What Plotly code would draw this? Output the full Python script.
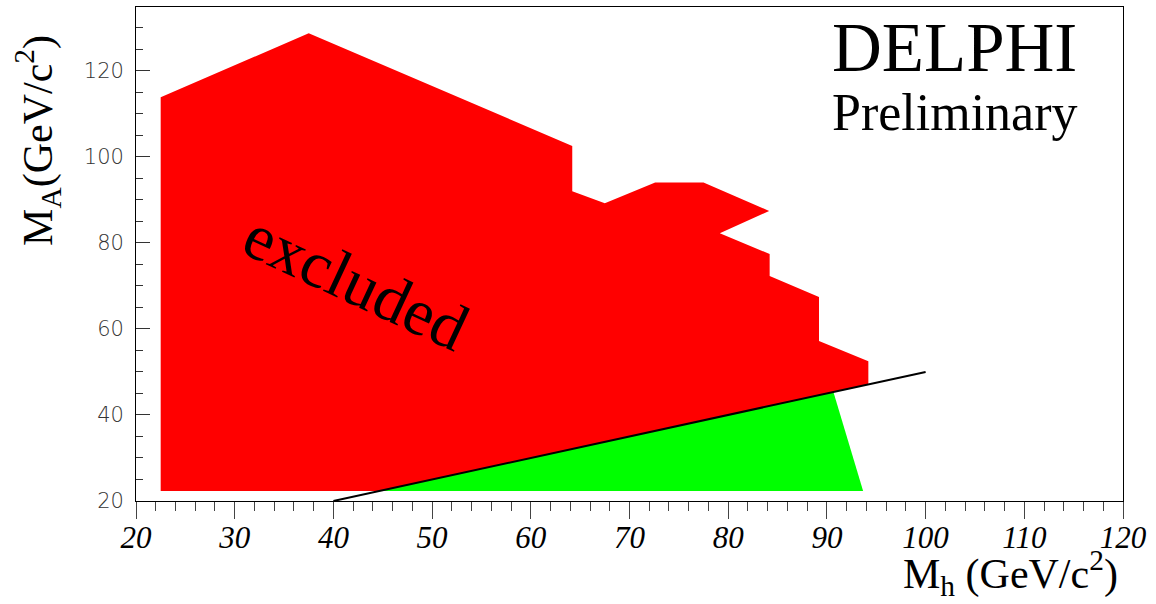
import plotly.graph_objects as go

# Excluded region in the (M_h, M_A) plane, outline vertices
excl_mh = [22.5, 22.5, 37.5, 64.2, 64.2, 67.5, 72.6, 77.5, 84.15, 79.15,
           84.2, 84.2, 89.2, 89.2, 94.2, 94.2, 44.6, 22.5]
excl_ma = [22.3, 113.8, 128.7, 102.5, 92.0, 89.2, 94.0, 94.0, 87.4, 82.2,
           77.4, 72.3, 67.4, 57.2, 52.5, 47.1, 22.3, 22.3]

# Allowed region below the kinematic line
allow_mh = [44.6, 90.66, 93.67, 44.6]
allow_ma = [22.3, 45.33, 22.3, 22.3]

# Kinematic limit line
limit_mh = [40, 100]
limit_ma = [20, 50]

x_ticks = [20, 30, 40, 50, 60, 70, 80, 90, 100, 110, 120]
y_ticks = [20, 40, 60, 80, 100, 120]

serif = "Liberation Serif"

fig = go.Figure()
fig.add_trace(go.Scatter(x=excl_mh, y=excl_ma, mode="lines", fill="toself",
                         fillcolor="#ff0000", line=dict(width=0, color="#ff0000"),
                         hoverinfo="skip", showlegend=False))
fig.add_trace(go.Scatter(x=allow_mh, y=allow_ma, mode="lines", fill="toself",
                         fillcolor="#00ff00", line=dict(width=0, color="#00ff00"),
                         hoverinfo="skip", showlegend=False))
fig.add_trace(go.Scatter(x=limit_mh, y=limit_ma, mode="lines",
                         line=dict(width=2, color="black"),
                         hoverinfo="skip", showlegend=False))

fig.update_layout(
    width=1156, height=604, autosize=False,
    margin=dict(l=136, r=33, t=7, b=103),
    paper_bgcolor="white", plot_bgcolor="white",
    showlegend=False,
    xaxis=dict(range=[20, 120], tickvals=x_ticks, ticktext=[str(v) for v in x_ticks],
               showgrid=False, zeroline=False,
               showline=True, linecolor="black", linewidth=1, mirror=True,
               ticks="outside", ticklen=17, tickwidth=1, tickcolor="#444",
               minor=dict(dtick=2, tick0=20, ticks="outside", ticklen=9,
                          tickwidth=1, tickcolor="#444", showgrid=False),
               tickfont=dict(family=serif, size=31, color="black", style="italic"),
               ticklabelstandoff=-8),
    yaxis=dict(range=[20, 134.8], tickvals=y_ticks,
               ticktext=[str(v) + "\u2004" for v in y_ticks],
               showgrid=False, zeroline=False,
               showline=True, linecolor="black", linewidth=1, mirror=True,
               ticks="inside", ticklen=14, tickwidth=1, tickcolor="#333",
               minor=dict(dtick=5, tick0=20, ticks="inside", ticklen=7,
                          tickwidth=1, tickcolor="#333", showgrid=False),
               tickfont=dict(family="DejaVu Sans", size=21, color="#333", weight=300)),
)

annotations = [
    dict(text="excluded", x=42.3, y=71.0, xref="x", yref="y",
         textangle=25, font=dict(family=serif, size=66, color="black")),
    dict(text="DELPHI", x=90.3, y=125.2, xref="x", yref="y", xanchor="left",
         yanchor="middle", font=dict(family=serif, size=69, color="black")),
    dict(text="Preliminary", x=90.3, y=110.3, xref="x", yref="y", xanchor="left",
         yanchor="middle", font=dict(family=serif, size=52, color="black")),
    dict(text="M<sub>A</sub>(GeV/c<sup>2</sup>)", x=-0.0998, y=0.730,
         xref="paper", yref="paper", textangle=-90, xanchor="center", yanchor="middle",
         font=dict(family=serif, size=42, color="black")),
    dict(text="M<sub>h</sub> (GeV/c<sup>2</sup>)", x=0.997, y=-0.1455,
         xref="paper", yref="paper", xanchor="right", yanchor="middle",
         font=dict(family=serif, size=42, color="black")),
]
for a in annotations:
    a["showarrow"] = False
    fig.add_annotation(**a)

fig.write_html("out.html")
